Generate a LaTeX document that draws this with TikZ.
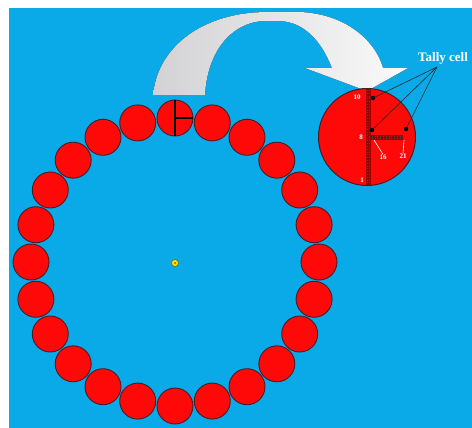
\documentclass[tikz,border=0pt]{standalone}
\usepackage{fontspec}
\setmainfont{Liberation Serif}
\usetikzlibrary{calc}
\definecolor{bgblue}{RGB}{10,170,232}
\definecolor{cellred}{RGB}{255,8,8}
\definecolor{rimcol}{RGB}{70,30,40}
\definecolor{arrowgray}{RGB}{210,210,212}
\tikzset{
  cell/.style={circle, fill=cellred, draw=rimcol, line width=0.9pt, minimum size=36pt, inner sep=0pt},
  lbl/.style={text=white, font=\bfseries\fontsize{7}{7}\selectfont, inner sep=0pt},
  dotb/.style={circle, fill=black, inner sep=0pt, minimum size=4.5pt}
}
\begin{document}
\begin{tikzpicture}[x=1pt,y=-1pt]
\useasboundingbox (0,0) rectangle (472,428);
\fill[white] (0,0) rectangle (472,428);
\fill[bgblue] (9,8) rectangle (472,428);
% ring of cells
\foreach \i in {0,...,23} {
  \node[cell] (c\i) at ({175+144*sin(15*\i)},{262-144*cos(15*\i)}) {};
}
\draw[black, line width=1.2pt] (c0.north) -- (c0.south);
\draw[black, line width=1.2pt] (c0.center) -- (c0.east);
% centre marker
\node[circle, fill=yellow!85!orange, draw=olive!70!black, line width=0.6pt, minimum size=7pt, inner sep=0pt] (src) at (175,263) {};
\node[circle, fill=olive!60!black, minimum size=2pt, inner sep=0pt] (srcc) at (175,263) {};
% curved arrow
\fill[left color=arrowgray, right color=white!96!gray, middle color=arrowgray!55!white]
  (153,95) .. controls (158,45) and (205,12) .. (268,12)
  -- (300,12) .. controls (345,14) and (375,40) .. (383,68)
  -- (408,68) -- (367,91) -- (305,68) -- (332,68)
  .. controls (322,42) and (305,22) .. (280,21)
  -- (262,21) .. controls (228,24) and (207,55) .. (205,95) -- cycle;
% enlarged cell
\node[cell, minimum size=97pt, line width=1pt] (big) at (367,137) {};
\fill[red!60!black] (366,89) rectangle (371,185);
\draw[black!70, dotted, line width=0.8pt] (367.2,90) -- (367.2,184);
\draw[black!70, dotted, line width=0.8pt] (369.8,90) -- (369.8,184);
\fill[red!60!black] (368,135) rectangle (403,140);
\draw[black!70, dotted, line width=0.8pt] (369,136.2) -- (403,136.2);
\draw[black!70, dotted, line width=0.8pt] (369,138.8) -- (403,138.8);
% labels
\node[lbl] (l10) at (357,97) {10};
\node[lbl] (l8) at (361,137) {8};
\node[lbl] (l1) at (362,180) {1};
\node[lbl] (l16) at (383,157) {16};
\node[lbl] (l21) at (403,156) {21};
\coordinate (p16) at (374,140);
\coordinate (p21) at (404,140);
\draw[white, line width=0.6pt] (l16.north) -- (p16);
\draw[white, line width=0.6pt] (l21.north) -- (p21);
% tally dots
\node[dotb] (d1) at (373,98) {};
\node[dotb] (d2) at (372,130) {};
\node[dotb] (d3) at (406,129) {};
\node[anchor=base west, text=white, font=\bfseries\fontsize{13}{14}\selectfont, inner sep=0pt] (tally) at (418,62) {Tally cell};
\coordinate (tip) at (437,67);
\foreach \d in {d1,d2,d3} \draw[black!85, line width=0.6pt] (\d.center) -- (tip);
\end{tikzpicture}
\end{document}
